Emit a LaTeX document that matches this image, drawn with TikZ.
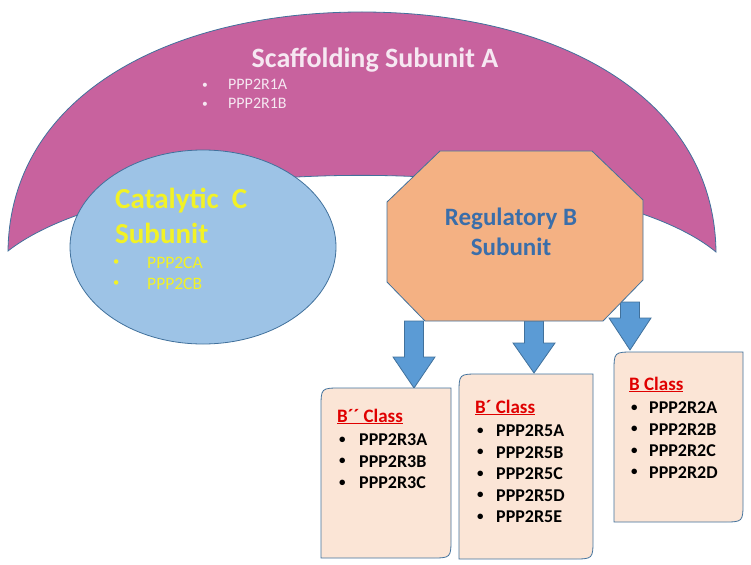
\documentclass[tikz,border=0pt]{standalone}
\usepackage{graphicx}
\usepackage{fontspec}
\setmainfont{Carlito}
\usetikzlibrary{shapes.geometric}

\definecolor{scaffoldpink}{HTML}{C8629E}
\definecolor{catblue}{HTML}{9DC3E6}
\definecolor{regorange}{HTML}{F4B183}
\definecolor{arrowblue}{HTML}{5B9BD5}
\definecolor{classpeach}{HTML}{FBE5D6}
\definecolor{outline}{HTML}{41719C}
\definecolor{regtext}{HTML}{3A6EAA}
\definecolor{cattext}{HTML}{F2F226}
\definecolor{scaffoldtext}{HTML}{F6E8F2}
\definecolor{classred}{HTML}{E00000}

\newcommand{\bitem}[2]{\makebox[#1][l]{\hspace{2pt}\raisebox{0.12em}{\scalebox{0.72}{\textbullet}}}#2}
\newcommand{\classtitle}[1]{{\fontsize{19}{21.5}\selectfont\color{classred}\underline{#1}}}

\begin{document}
\begin{tikzpicture}[x=1pt,y=-1pt]
    \tikzstyle{outlined}=[draw=outline,line width=0.8pt]
    \tikzstyle{classbox}=[outlined,fill=classpeach]
    \tikzstyle{classlist}=[anchor=base west,inner sep=0pt,font=\fontsize{18}{21.5}\selectfont\bfseries]
    \useasboundingbox (0,0) rectangle (751,564);
    \filldraw[outlined,fill=scaffoldpink] (8,251) .. controls (10,95) and (170,12) .. (362,12)
        .. controls (554,12) and (714,95) .. (716,252)
        .. controls (595,152) and (140,148) .. (8,251) -- cycle;
    \node[ellipse,outlined,fill=catblue,minimum width=266pt,minimum height=194pt,inner sep=0pt] (catalytic) at (203,247) {};
    \foreach \xc/\ya/\yb/\yc in {414/321/357/388,534/321/343/373,630/302/318/350}
        \filldraw[outlined,fill=arrowblue] (\xc-9.5,\ya) -- (\xc+9.5,\ya) -- (\xc+9.5,\yb) -- (\xc+21,\yb)
            -- (\xc,\yc) -- (\xc-21,\yb) -- (\xc-9.5,\yb) -- cycle;
    \filldraw[outlined,fill=regorange] (440,151) -- (592,151) -- (643,200) -- (643,280) -- (603,321)
        -- (425,321) -- (387,282) -- (387,202) -- cycle;
    \foreach \xa/\ya/\xb/\yb in {321/388/451/558,459/374/593/559,614/352/743/522}
        \filldraw[classbox] (\xa,\yb) -- (\xa,\ya+20) .. controls (\xa,\ya) .. (\xa+20,\ya) -- (\xb,\ya)
            -- (\xb,\yb-20) .. controls (\xb,\yb) .. (\xb-20,\yb) -- cycle;
    \node[anchor=base,inner sep=0pt,font=\fontsize{28}{34}\selectfont\bfseries,text=scaffoldtext] (scaffold) at (375,68) {Scaffolding Subunit A};
    \node[anchor=base west,inner sep=0pt,font=\fontsize{16}{19}\selectfont,text=scaffoldtext] (scaffoldlist) at (200,90)
        {\begin{tabular}[t]{@{}l@{}}\bitem{28pt}{PPP2R1A}\\ \bitem{28pt}{PPP2R1B}\end{tabular}};
    \node[anchor=base west,inner sep=0pt,font=\fontsize{29}{35}\selectfont\bfseries,text=cattext] (cattitle) at (115,208)
        {\begin{tabular}[t]{@{}l@{}}Catalytic\ \ C\\ Subunit\end{tabular}};
    \node[anchor=base west,inner sep=0pt,font=\fontsize{17.5}{21}\selectfont,text=cattext] (catlist) at (111,268)
        {\begin{tabular}[t]{@{}l@{}}\bitem{36pt}{PPP2CA}\\ \bitem{36pt}{PPP2CB}\end{tabular}};
    \node[anchor=base,inner sep=0pt,font=\fontsize{25}{30}\selectfont\bfseries,text=regtext] (regulatory) at (511,225)
        {\begin{tabular}[t]{@{}c@{}}Regulatory B\\ Subunit\end{tabular}};
    \node[classlist] (bclassdd) at (337,422) {\begin{tabular}[t]{@{}l@{}}\classtitle{B´´ Class}\\[2pt]
        \bitem{22pt}{PPP2R3A}\\ \bitem{22pt}{PPP2R3B}\\ \bitem{22pt}{PPP2R3C}\end{tabular}};
    \node[classlist] (bclassd) at (475,413) {\begin{tabular}[t]{@{}l@{}}\classtitle{B´ Class}\\[2pt]
        \bitem{21pt}{PPP2R5A}\\ \bitem{21pt}{PPP2R5B}\\ \bitem{21pt}{PPP2R5C}\\ \bitem{21pt}{PPP2R5D}\\ \bitem{21pt}{PPP2R5E}\end{tabular}};
    \node[classlist] (bclass) at (629,390) {\begin{tabular}[t]{@{}l@{}}\classtitle{B Class}\\[2pt]
        \bitem{20pt}{PPP2R2A}\\ \bitem{20pt}{PPP2R2B}\\ \bitem{20pt}{PPP2R2C}\\ \bitem{20pt}{PPP2R2D}\end{tabular}};
\end{tikzpicture}
\end{document}
